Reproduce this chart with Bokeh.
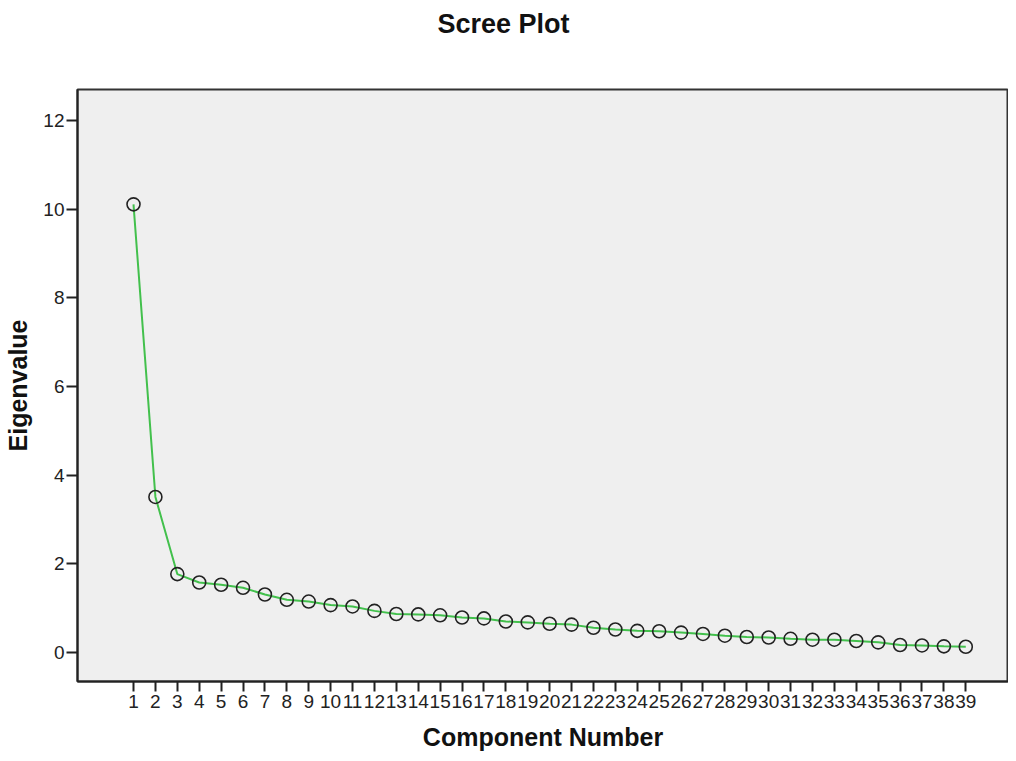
from bokeh.plotting import figure
from bokeh.models import FixedTicker, Range1d, Title
from bokeh.embed import file_html
from bokeh.resources import INLINE

components = list(range(1, 40))
eigenvalues = [10.11, 3.51, 1.77, 1.58, 1.53, 1.46, 1.31, 1.19, 1.15, 1.07,
               1.04, 0.94, 0.87, 0.86, 0.84, 0.79, 0.77, 0.70, 0.68, 0.65,
               0.63, 0.56, 0.52, 0.49, 0.48, 0.45, 0.42, 0.38, 0.35, 0.34,
               0.31, 0.29, 0.29, 0.26, 0.23, 0.17, 0.16, 0.14, 0.13]
y_ticks = [0, 2, 4, 6, 8, 10, 12]
title_text = "Scree Plot"

FONT = "Liberation Sans"

p = figure(width=1008, height=753, output_backend="svg", toolbar_location=None,
           title=None,
           x_range=Range1d(-1.557, 40.95), y_range=Range1d(-0.653, 12.70),
           min_border_left=77, min_border_right=0, min_border_top=89, min_border_bottom=71)

# spacer (closest to the frame) then the real title above it
spacer = Title(text=" ", text_font_size="1px", standoff=43)
main_title = Title(text=title_text, align="left", offset=360, standoff=10,
                   text_font=FONT, text_font_size="27px", text_font_style="bold",
                   text_color="#111111")
p.add_layout(spacer, "above")
p.add_layout(main_title, "above")

p.background_fill_color = "#efefef"
p.border_fill_color = "white"
p.outline_line_color = "#333333"
p.outline_line_width = 2
p.grid.visible = False

for ax in (p.xaxis[0], p.yaxis[0]):
    ax.axis_line_color = "#222222"
    ax.axis_line_width = 2
    ax.major_tick_line_color = "#222222"
    ax.major_tick_line_width = 2
    ax.major_tick_in = 0
    ax.minor_tick_line_color = None
    ax.major_label_text_font = FONT
    ax.major_label_text_font_size = "19px"
    ax.major_label_text_color = "#222222"
    ax.axis_label_text_font = FONT
    ax.axis_label_text_font_size = "25px"
    ax.axis_label_text_font_style = "bold"
    ax.axis_label_text_color = "#111111"

p.xaxis.ticker = FixedTicker(ticks=components)
p.xaxis.major_tick_out = 10
p.xaxis.major_label_standoff = 3
p.xaxis.axis_label = "Component Number"
p.xaxis.axis_label_standoff = 12

p.yaxis.ticker = FixedTicker(ticks=y_ticks)
p.yaxis.major_tick_out = 11
p.yaxis.major_label_standoff = 2
p.yaxis.axis_label = "Eigenvalue"
p.yaxis.axis_label_standoff = 8

p.line(components, eigenvalues, line_color="#42c04c", line_width=2)
p.scatter(components, eigenvalues, marker="circle", size=13, fill_color=None,
          line_color="#222222", line_width=1.6)

open("out.html", "w").write(file_html(p, INLINE))
